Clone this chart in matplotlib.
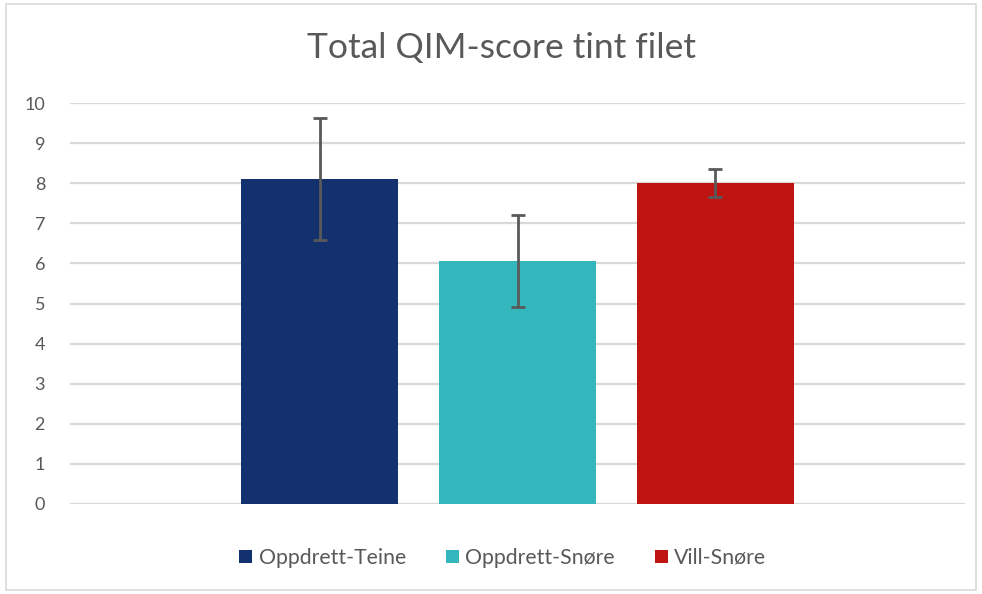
import matplotlib
matplotlib.use("Agg")
import matplotlib.pyplot as plt
from matplotlib.patches import Rectangle

# data
series = ["Oppdrett-Teine", "Oppdrett-Snøre", "Vill-Snøre"]
values = [8.1, 6.06, 8.0]
errors = [1.52, 1.15, 0.35]
colors = ["#14316f", "#33b7bc", "#be1512"]
yticks = [0, 1, 2, 3, 4, 5, 6, 7, 8, 9, 10]

plt.rcParams['font.family'] = ['Lato', 'DejaVu Sans']
grey = "#595959"

fig = plt.figure(figsize=(9.82, 5.94), dpi=100)
# outer chart border
fig.patches.append(Rectangle((6/982, 4/594), 970/982, 586/594, transform=fig.transFigure,
                             fill=False, edgecolor="#d9d9d9", linewidth=1.2))

ax = fig.add_axes([70/982, 1-504/594, 895/982, 401/594])

width = 0.175
step = 0.221
for i, (name, v, e, c) in enumerate(zip(series, values, errors, colors)):
    x = (i - 1) * step
    ax.bar(x, v, width=width, color=c, label=name, zorder=2)
    ax.errorbar(x, v, yerr=e, ecolor=grey, elinewidth=2, capsize=5, capthick=2,
                fmt="none", zorder=3)

ax.set_xlim(-0.5, 0.5)
ax.set_ylim(0, 10)
ax.set_yticks(yticks)
ax.set_yticklabels([str(t) for t in yticks])
ax.set_xticks([])
ax.yaxis.grid(True, color="#d9d9d9", linewidth=1.6, zorder=0)
ax.set_axisbelow(True)
for s in ax.spines.values():
    s.set_visible(False)
ax.tick_params(axis="y", length=0, pad=18, labelsize=13, labelcolor=grey)

fig.text(501/982, 1-48/594, "Total QIM-score tint filet", ha="center", va="center",
         fontsize=25.5, color=grey)

leg = fig.legend(loc="center", bbox_to_anchor=(503/982, 1-558/594), ncol=3, frameon=False,
                 fontsize=15.3, handlelength=0.6, handleheight=0.6, handletextpad=0.3,
                 columnspacing=1.9)
for t in leg.get_texts():
    t.set_color(grey)

fig.savefig("out.png", dpi=100)
